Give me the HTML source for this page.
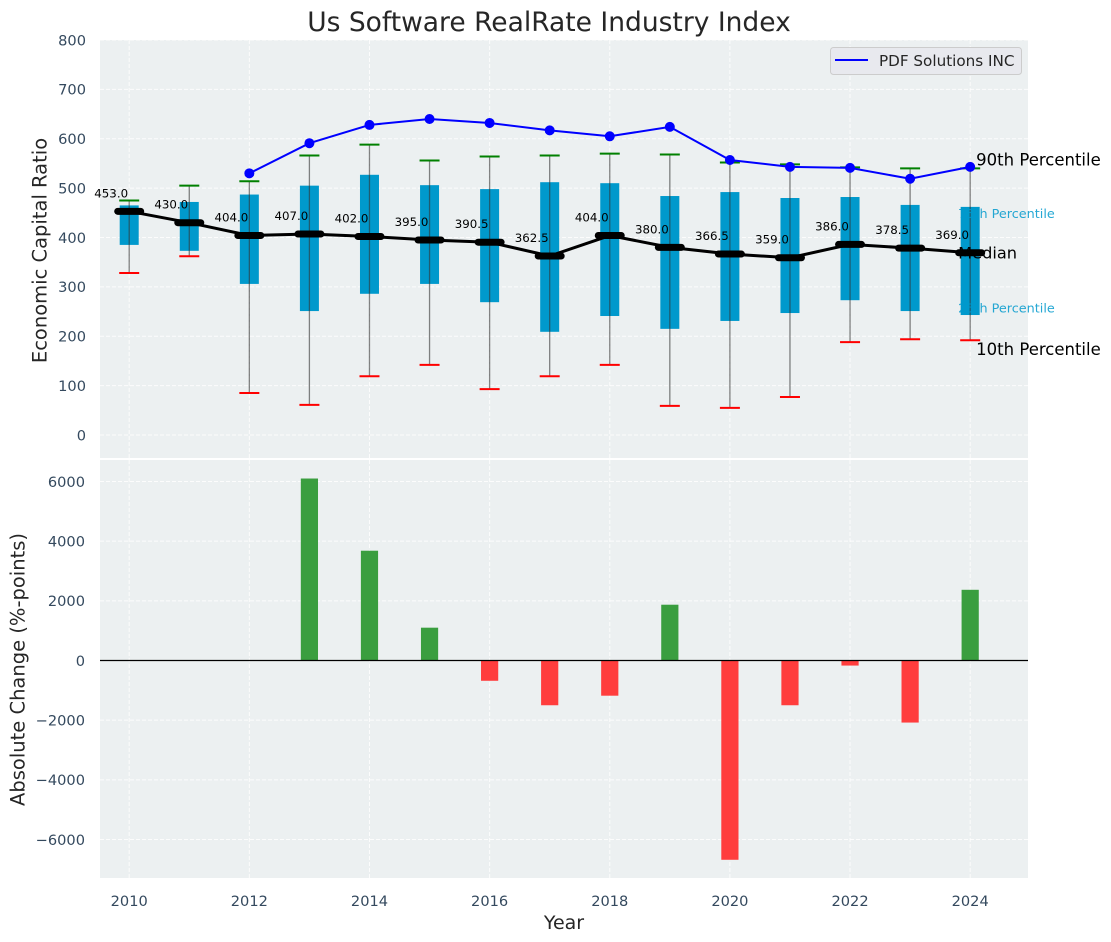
<!DOCTYPE html>
<html lang="en">
<head>
<meta charset="utf-8">
<title>Us Software RealRate Industry Index</title>
<style>
html,body{margin:0;padding:0;background:#fff}
svg{display:block;font-family:"DejaVu Sans","Liberation Sans",sans-serif}
</style>
</head>
<body>
<svg id="chart" xmlns="http://www.w3.org/2000/svg" width="1111" height="942" viewBox="0 0 1111 942">
  <rect width="1111" height="942" fill="#ffffff"/>
  <rect x="100" y="40" width="928" height="418" fill="#ecf0f1"/>
  <rect x="100" y="460" width="928" height="418" fill="#ecf0f1"/>
  <g id="grid"></g>
  <g id="bars"></g>
  <line x1="100" x2="1028" y1="660.5" y2="660.5" stroke="#000" stroke-width="1.2"/>
  <g id="boxes"></g>
  <g id="lines"></g>
  <g id="texts"></g>
  <text x="549" y="31" font-size="26.5" fill="#262626" text-anchor="middle">Us Software RealRate Industry Index</text>
  <text transform="translate(46.5,250.5) rotate(-90)" font-size="19.5" fill="#262626" text-anchor="middle">Economic Capital Ratio</text>
  <text transform="translate(24.5,669.5) rotate(-90)" font-size="19.5" fill="#262626" text-anchor="middle">Absolute Change (%-points)</text>
  <text x="564" y="929" font-size="19" fill="#262626" text-anchor="middle">Year</text>
  <g>
    <rect x="830.5" y="47.5" width="191" height="27" rx="3" fill="#e8e9ee" stroke="#cccccc" stroke-width="1"/>
    <line x1="835" x2="868" y1="60" y2="60" stroke="#0000ff" stroke-width="2"/>
    <text x="879" y="66" font-size="15.2" fill="#262626">PDF Solutions INC</text>
  </g>
</svg>
<script>
const years = [2010,2011,2012,2013,2014,2015,2016,2017,2018,2019,2020,2021,2022,2023,2024];
const p90 = [475,505,514,566,588,556,564,566,570,568,552,548,542,540,540];
const p75 = [465,472,487,505,527,506,498,512,510,484,492,480,482,466,462];
const median = [453,430,404,407,402,395,390.5,362.5,404,380,366.5,359,386,378.5,369];
const p25 = [385,373,306,251,286,306,269,209,241,215,231,247,273,251,243];
const p10 = [328,362,85,61,119,142,93,119,142,59,55,77,188,194,192];
const pdfSolutions = [null,null,530,591,628,640,632,617,605,624,557,543,541,519,543];
const absoluteChange = [0,0,0,6100,3680,1100,-680,-1500,-1180,1870,-6680,-1500,-170,-2080,2370];
const xTicks = [2010,2012,2014,2016,2018,2020,2022,2024];
const topYTicks = [0,100,200,300,400,500,600,700,800];
const bottomYTicks = [-6000,-4000,-2000,0,2000,4000,6000];

const NS = 'http://www.w3.org/2000/svg';
const xScale = v => 129.2 + (v - 2010) * 60.07;
const yTop = v => 435 - v * 0.49375;
const yBottom = v => 660.5 - v * 0.029833;

function mk(tag, parent, attrs, content) {
  const el = document.createElementNS(NS, tag);
  for (const k in attrs) el.setAttribute(k, attrs[k]);
  if (content !== undefined) el.textContent = content;
  parent.appendChild(el);
  return el;
}
const grid = document.getElementById('grid');
const bars = document.getElementById('bars');
const boxes = document.getElementById('boxes');
const lines = document.getElementById('lines');
const texts = document.getElementById('texts');
const gridStyle = {stroke:'#ffffff','stroke-width':1,'stroke-dasharray':'4 2',opacity:0.85};
const tickColor = '#34495e';

xTicks.forEach(t => {
  const x = xScale(t);
  let el = mk('line', grid, {x1:x,x2:x,y1:40,y2:458,...gridStyle});
  
  
  el = mk('line', grid, {x1:x,x2:x,y1:460,y2:878,...gridStyle});
  
  
  el = mk('text', texts, {x:x,y:906,'font-size':14.6,fill:tickColor,'text-anchor':'middle'}, String(t));
  
  
});
topYTicks.forEach(t => {
  const y = yTop(t);
  let el = mk('line', grid, {x1:100,x2:1028,y1:y,y2:y,...gridStyle});
  
  
  el = mk('text', texts, {x:86,y:y+5.3,'font-size':14.6,fill:tickColor,'text-anchor':'end'}, String(t));
  
  
});
bottomYTicks.forEach(t => {
  const y = yBottom(t);
  let el = mk('line', grid, {x1:100,x2:1028,y1:y,y2:y,...gridStyle});
  
  
  el = mk('text', texts, {x:85,y:y+5.3,'font-size':14.6,fill:tickColor,'text-anchor':'end'}, String(t).replace('-', '\u2212'));
  
  
});

absoluteChange.forEach((v, i) => {
  if (v === 0) return;
  const x = xScale(years[i]);
  const y0 = yBottom(0), y1 = yBottom(v);
  const el = mk('rect', bars, {x:x-8.6,width:17.2,y:Math.min(y0,y1),height:Math.abs(y1-y0),fill:v>0?'#3a9e3f':'#ff3d3d'});
  
  
});

years.forEach((yr, i) => {
  const x = xScale(yr);
  let el = mk('rect', boxes, {x:x-9.5,width:19,y:yTop(p75[i]),height:yTop(p25[i])-yTop(p75[i]),fill:'#0099cc'});
  
  
  el = mk('line', boxes, {x1:x,x2:x,y1:yTop(p10[i]),y2:yTop(p90[i]),stroke:'#333333','stroke-opacity':0.6,'stroke-width':1.3});
  
  
  el = mk('line', boxes, {x1:x-10,x2:x+10,y1:yTop(p90[i]),y2:yTop(p90[i]),stroke:'#008000','stroke-width':2});
  
  
  el = mk('line', boxes, {x1:x-10,x2:x+10,y1:yTop(p10[i]),y2:yTop(p10[i]),stroke:'#ff0000','stroke-width':2});
  
  
});

const medianPath = mk('polyline', lines, {points:years.map((yr,i)=>xScale(yr)+','+yTop(median[i])).join(' '),fill:'none',stroke:'#000','stroke-width':3});


years.forEach((yr, i) => {
  const x = xScale(yr), y = yTop(median[i]);
  let el = mk('line', lines, {x1:x-11.5,x2:x+11.5,y1:y,y2:y,stroke:'#000','stroke-width':7,'stroke-linecap':'round'});
  
  
  el = mk('text', texts, {x:x-18,y:y-14,'font-size':11.8,fill:'#000','text-anchor':'middle'}, median[i].toFixed(1));
  
  
});

const pdfPts = years.map((yr,i)=>pdfSolutions[i]===null?null:[xScale(yr),yTop(pdfSolutions[i])]).filter(Boolean);
const pdfLine = mk('polyline', lines, {points:pdfPts.map(p=>p.join(',')).join(' '),fill:'none',stroke:'#0000ff','stroke-width':2});


pdfPts.forEach(p => {
  const el = mk('circle', lines, {cx:p[0],cy:p[1],r:5,fill:'#0000ff'});
  
  
});

const last = years.length - 1;
const xl = xScale(years[last]);
let lab = mk('text', texts, {x:xl+6,y:yTop(p90[last])-3,'font-size':16.5,fill:'#000'}, '90th Percentile');


lab = mk('text', texts, {x:xl-12,y:yTop(p75[last])+11,'font-size':12.8,fill:'#0099cc','fill-opacity':0.85}, '75th Percentile');


lab = mk('text', texts, {x:xl-12,y:yTop(median[last])+5.5,'font-size':16.2,fill:'#000'}, 'Median');


lab = mk('text', texts, {x:xl-12,y:yTop(p25[last])-2.5,'font-size':12.8,fill:'#0099cc','fill-opacity':0.85}, '25th Percentile');


lab = mk('text', texts, {x:xl+6,y:yTop(p10[last])+15,'font-size':16.5,fill:'#000'}, '10th Percentile');


</script>
</body>
</html>
